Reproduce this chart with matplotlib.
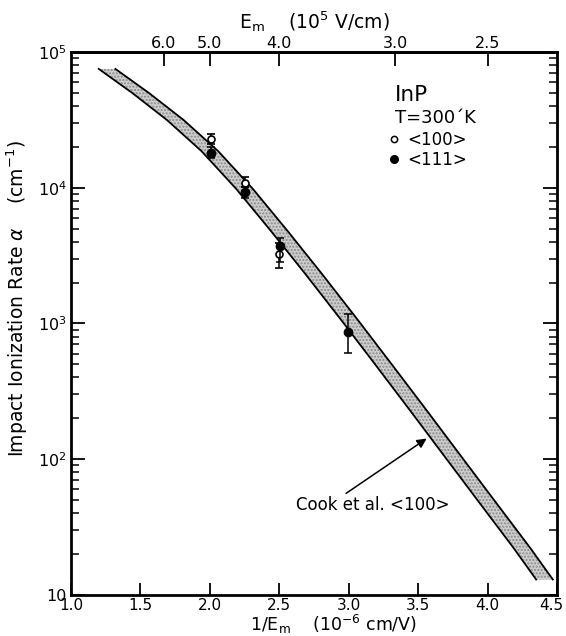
import matplotlib
matplotlib.use("Agg")
import matplotlib.pyplot as plt
from matplotlib.lines import Line2D
from matplotlib.transforms import ScaledTranslation
from matplotlib.ticker import FixedLocator, FixedFormatter, LogLocator, NullFormatter

plt.rcParams['font.family'] = ['DejaVu Sans']
plt.rcParams['mathtext.fontset'] = 'dejavusans'

# ---- data ----
# Cook et al. <100> band: alpha levels and left/right edges in 1/Em (1e-6 cm/V)
band_alpha = [7.5e4, 5.0e4, 3.16e4, 1.86e4, 9.8e3, 4.8e3, 2.3e3, 1.08e3,
              5.0e2, 2.3e2, 1.05e2, 4.8e1, 2.2e1, 1.3e1]
band_left = [1.20, 1.44, 1.69, 1.94, 2.19, 2.44, 2.69, 2.94,
             3.19, 3.44, 3.69, 3.94, 4.19, 4.35]
band_right = [1.32, 1.56, 1.81, 2.06, 2.31, 2.56, 2.81, 3.06,
              3.31, 3.56, 3.81, 4.06, 4.31, 4.47]

# <100> open circles
open_x = [2.006, 2.253, 2.497]
open_a = [2.29e4, 1.09e4, 3.23e3]
open_lo = [2.10e4, 1.02e4, 2.55e3]
open_hi = [2.49e4, 1.19e4, 3.9e3]

# <111> filled circles
fill_x = [2.006, 2.253, 2.505, 2.997]
fill_a = [1.81e4, 9.35e3, 3.74e3, 869]
fill_lo = [1.65e4, 8.36e3, 2.82e3, 603]
fill_hi = [2.0e4, 1.02e4, 4.29e3, 1.17e3]

x_ticks = [1.0, 1.5, 2.0, 2.5, 3.0, 3.5, 4.0, 4.5]
y_ticks = [1e1, 1e2, 1e3, 1e4, 1e5]
y_ticklabels = ['10', r'$10^2$', r'$10^3$', r'$10^4$', r'$10^5$']
top_E = [6.0, 5.0, 4.0, 3.0, 2.5]

fig = plt.figure(figsize=(5.66, 6.36), dpi=100)
ax = fig.add_axes([0.1254, 0.0645, 0.8587, 0.8538])
ax.set_yscale('log')
ax.set_xlim(1.0, 4.5)
ax.set_ylim(10, 1e5)

# band
ax.fill_betweenx(band_alpha, band_left, band_right, facecolor='#cdcdcd',
                 edgecolor='#8a8a8a', hatch='.....', linewidth=0)
ax.plot(band_left, band_alpha, color='black', lw=1.3)
ax.plot(band_right, band_alpha, color='black', lw=1.3)

# data points
oe = [[a - l for a, l in zip(open_a, open_lo)], [h - a for a, h in zip(open_a, open_hi)]]
fe = [[a - l for a, l in zip(fill_a, fill_lo)], [h - a for a, h in zip(fill_a, fill_hi)]]
ax.errorbar(open_x, open_a, yerr=oe, fmt='o', ms=5, mfc='white', mec='black',
            mew=1.2, ecolor='black', elinewidth=1.1, capsize=3, capthick=1.1, zorder=4)
ax.errorbar(fill_x, fill_a, yerr=fe, fmt='o', ms=6, mfc='black', mec='black',
            ecolor='black', elinewidth=1.1, capsize=3, capthick=1.1, zorder=5)

# axes styling
for s in ax.spines.values():
    s.set_linewidth(2.0)
ax.xaxis.set_major_locator(FixedLocator(x_ticks))
ax.xaxis.set_major_formatter(FixedFormatter([f'{v:.1f}' for v in x_ticks]))
ax.yaxis.set_major_locator(FixedLocator(y_ticks))
ax.yaxis.set_major_formatter(FixedFormatter(y_ticklabels))
ax.yaxis.set_minor_locator(LogLocator(base=10, subs=range(2, 10)))
ax.yaxis.set_minor_formatter(NullFormatter())
ax.tick_params(axis='x', which='major', direction='in', length=9, width=1.3,
               labelsize=11, pad=2, top=False)
ax.tick_params(axis='y', which='major', direction='in', length=10, width=1.3,
               labelsize=11.5, pad=3, right=True)
ax.tick_params(axis='y', which='minor', direction='in', length=6, width=1.1, right=True)

# nudge the last x tick label so it stays inside the figure
last = ax.xaxis.get_major_ticks()[-1].label1
last.set_transform(last.get_transform() + ScaledTranslation(-4 / 72, 0, fig.dpi_scale_trans))

ax.set_xlabel(r'1/E$_\mathrm{m}$    (10$^{-6}$ cm/V)', fontsize=12.5)
ax.xaxis.set_label_coords(0.541, -0.033)
ax.set_ylabel(r'Impact Ionization Rate $\alpha$    (cm$^{-1}$)', fontsize=13.5)
ax.yaxis.set_label_coords(-0.085, 0.545)

# top axis: Em in 1e5 V/cm
top = ax.secondary_xaxis('top', functions=(lambda x: 10.0 / x, lambda e: 10.0 / e))
top.xaxis.set_major_locator(FixedLocator(top_E))
top.xaxis.set_major_formatter(FixedFormatter([f'{v:.1f}' for v in top_E]))
top.xaxis.set_minor_locator(FixedLocator([]))
top.tick_params(axis='x', direction='in', length=10, width=1.3, labelsize=11.5, pad=1)
top.spines['top'].set_linewidth(2.0)
top.set_xlabel(r'E$_\mathrm{m}$    (10$^5$ V/cm)', fontsize=13.5, labelpad=5)

# annotation
ax.annotate('Cook et al. <100>', xy=(3.561, 142), xytext=(2.62, 45.9),
            fontsize=12, va='center', ha='left',
            arrowprops=dict(arrowstyle='-|>', color='black', lw=1.1,
                            mutation_scale=14, shrinkA=0, shrinkB=0,
                            relpos=(0.3, 1.0)))

# legend block
ax.text(0.667, 0.921, 'InP', transform=ax.transAxes, fontsize=15.5, va='center', ha='left')
ax.text(0.667, 0.878, 'T=300´K', transform=ax.transAxes, fontsize=13, va='center', ha='left')
handles = [Line2D([], [], marker='o', ls='none', ms=4.5, mfc='white', mec='black', mew=1.1),
           Line2D([], [], marker='o', ls='none', ms=5.5, mfc='black', mec='black')]
ax.legend(handles, ['<100>', '<111>'], loc='upper left', bbox_to_anchor=(0.655, 0.855),
          frameon=False, fontsize=12, handlelength=0.6, handletextpad=0.5,
          labelspacing=0.15, borderpad=0, borderaxespad=0)

fig.savefig('out.png', dpi=100)
